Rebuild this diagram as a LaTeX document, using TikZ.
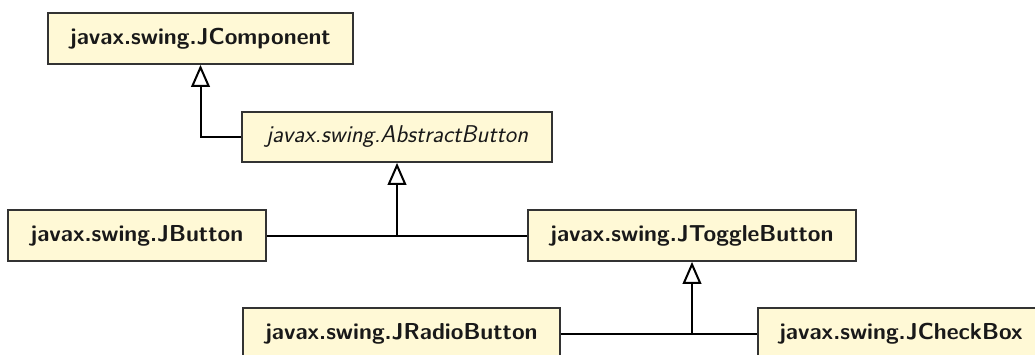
\documentclass[tikz,border=0pt]{standalone}
\usetikzlibrary{arrows.meta}
\definecolor{boxfill}{HTML}{FFF9D6}
\definecolor{boxline}{HTML}{333333}
\tikzset{
  cls/.style={draw=boxline, fill=boxfill, line width=1.3pt, inner sep=0pt,
    font=\fontsize{17.3}{20}\selectfont\sffamily\bfseries, text=black!90},
  abscls/.style={cls, font=\fontsize{18.2}{21}\selectfont\sffamily\slshape},
  conn/.style={draw=black, line width=1.5pt},
  inh/.style={conn, -{Triangle[open, length=16.5pt, width=14pt, line width=1.5pt]}}
}
\begin{document}
\begin{tikzpicture}[x=0.75pt, y=-0.75pt]
\useasboundingbox (0,0) rectangle (1035,354);
\node[cls, minimum width=305*0.75pt, minimum height=51*0.75pt] (jc) at (200.5,38.5) {javax.swing.JComponent};
\node[abscls, minimum width=310*0.75pt, minimum height=50*0.75pt] (ab) at (397,137) {javax.swing.AbstractButton};
\node[cls, minimum width=258*0.75pt, minimum height=51*0.75pt] (jb) at (137,235.5) {javax.swing.JButton};
\node[cls, minimum width=328*0.75pt, minimum height=51*0.75pt] (jt) at (692,235.5) {javax.swing.JToggleButton};
\node[cls, minimum width=317*0.75pt, minimum height=51*0.75pt] (jr) at (401.5,333.5) {javax.swing.JRadioButton};
\node[cls, minimum width=286*0.75pt, minimum height=51*0.75pt] (jx) at (901,333.5) {javax.swing.JCheckBox};
\coordinate (j1) at (ab.south |- jb.east);
\coordinate (j2) at (jt.south |- jr.east);
\draw[inh] (ab.west) -| (jc.south);
\draw[conn] (jb.east) -- (j1);
\draw[conn] (jt.west) -- (j1);
\draw[inh] (j1) -- (ab.south);
\draw[conn] (jr.east) -- (j2);
\draw[conn] (jx.west) -- (j2);
\draw[inh] (j2) -- (jt.south);
\end{tikzpicture}
\end{document}
